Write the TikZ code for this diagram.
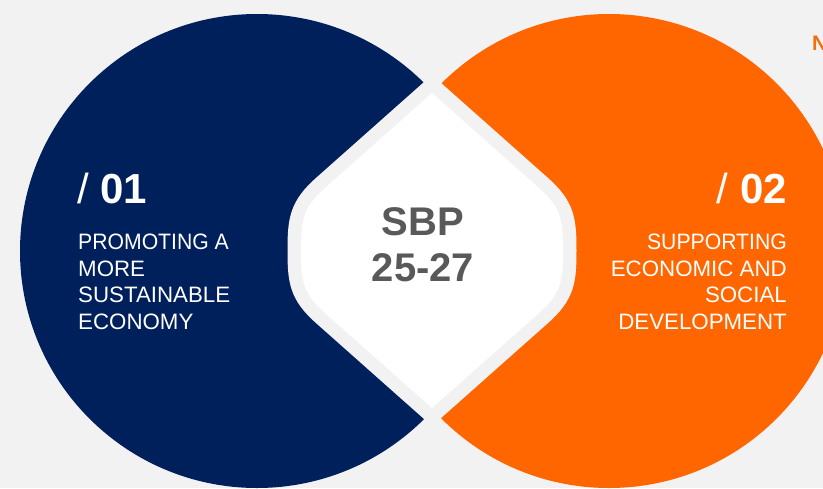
\documentclass[tikz,border=0pt]{standalone}
\usepackage{fontspec}
\setmainfont{Liberation Sans}
\newfontfamily\leadfont[FakeStretch=0.95]{Liberation Sans}
\definecolor{pagebg}{HTML}{F2F2F2}
\definecolor{navy}{HTML}{00205C}
\definecolor{brandorange}{HTML}{FF6600}
\definecolor{darkorange}{HTML}{EE7010}
\definecolor{textgray}{HTML}{595959}
\tikzset{
  pillar/.style={circle, minimum size=474pt, inner sep=0pt},
  smalltext/.style={text=white, inner sep=0pt, font=\fontsize{22.3}{26.5}\selectfont},
  numtext/.style={text=white, inner sep=0pt, font=\fontsize{42}{42}\selectfont},
  coretext/.style={text=textgray, inner sep=0pt, align=center, font=\fontsize{40}{46}\selectfont\bfseries}
}
% outline of the central lozenge: pointed top and bottom, rounded sides
\def\lozenge{(432,93) -- (325,188)
  .. controls (302.6,207.9) and (301,220.5) .. (301,250.5)
  .. controls (301,280.5) and (302.6,293.1) .. (325,313)
  -- (432,408) -- (539,313)
  .. controls (561.4,293.1) and (563,280.5) .. (563,250.5)
  .. controls (563,220.5) and (561.4,207.9) .. (539,188)
  -- cycle}
\begin{document}
\begin{tikzpicture}[x=1pt, y=-1pt]
  % page background
  \fill[pagebg] (0,0) rectangle (823,488);
  \useasboundingbox (0,0) rectangle (823,488);

  % the two pillars
  \node[pillar, fill=navy] (left) at (257,251) {};
  \node[pillar, fill=brandorange] (right) at (609,251) {};

  % central lozenge: a background-coloured rim, then the white face
  \draw[pagebg, line width=27pt, line join=miter, miter limit=20] \lozenge;
  \fill[white] \lozenge;

  % centre label
  \node[coretext, anchor=north] (sbp) at (423,207) {SBP\\25-27};

  % left pillar texts
  \node[numtext, anchor=base west] (n1) at (77,203) {/ \textbf{01}};
  \node[smalltext, anchor=north west, align=left] (t1) at (78,234)
    {{\leadfont PROMOTING A}\\MORE\\SUSTAINABLE\\ECONOMY};

  % right pillar texts
  \node[numtext, anchor=base east] (n2) at (787,203) {/ \textbf{02}};
  \node[smalltext, anchor=north east, align=right] (t2) at (787,234)
    {{\leadfont SUPPORTING}\\ECONOMIC AND\\SOCIAL\\DEVELOPMENT};

  % heading letter at the upper right edge
  \node[text=darkorange, inner sep=0pt, anchor=base west, font=\fontsize{21}{21}\selectfont\bfseries] (hd) at (812,50) {N};
\end{tikzpicture}
\end{document}
